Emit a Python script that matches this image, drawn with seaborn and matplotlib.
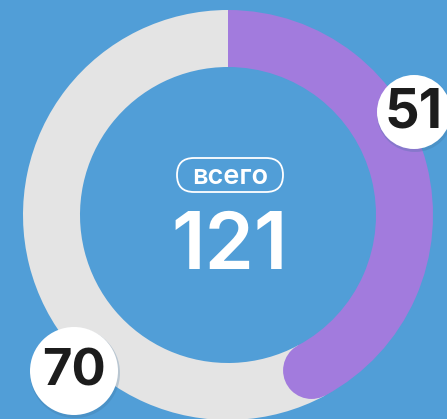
import matplotlib
matplotlib.use("Agg")
import matplotlib.pyplot as plt
import numpy as np
import seaborn as sns
from matplotlib.patches import Circle, FancyBboxPatch

# values
labels = ["51", "70"]
values = [51, 70]
total_label = "всего"

sns.set_style("white")
plt.rcParams["font.family"] = ["Inter", "DejaVu Sans"]

bg = "#519ed7"
ring_colors = ["#a27bdd", "#e4e4e4"]

W, H = 447, 419
fig = plt.figure(figsize=(W / 100, H / 100), dpi=100, facecolor=bg)
ax = fig.add_axes([0, 0, 1, 1])
ax.set_facecolor(bg)

cx, cy = 228, H - 215
R, width = 205, 57

ax.pie(values, colors=ring_colors, startangle=90, counterclock=False,
       radius=R, center=(cx, cy),
       wedgeprops=dict(width=width, linewidth=0, antialiased=True))

# rounded end of the first segment
end = np.deg2rad(90 - 360 * values[0] / sum(values))
rm = R - width / 2
ax.add_patch(Circle((cx + rm * np.cos(end), cy + rm * np.sin(end)), width / 2,
                    fc=ring_colors[0], ec="none", zorder=3))

# centre: outlined tag + total
ax.add_patch(FancyBboxPatch((230 - 53, H - 192), 106, 34,
                            boxstyle="round,pad=0,rounding_size=17",
                            fc="none", ec="white", lw=1.3, zorder=4))
ax.text(230, H - 177, total_label, color="white", fontsize=19.5,
        fontweight="semibold", ha="center", va="center", zorder=5)
ax.text(230, H - 248, str(sum(values)), color="white", fontsize=57,
        fontweight="semibold", ha="center", va="center", zorder=5)

# value badges
badges = [(414, H - 112, 37, 39), (74, H - 371, 44, 36.5)]
for lab, (bx, by, br, fs) in zip(labels, badges):
    ax.add_patch(Circle((bx + 1, by - 2), br + 1, fc="#3a6f9a", alpha=0.25,
                        ec="none", zorder=5))
    ax.add_patch(Circle((bx, by), br, fc="white", ec="none", zorder=6))
    ax.text(bx, by - 1, lab, color="#1c1c1c", fontsize=fs, fontweight="bold",
            ha="center", va="center", zorder=7)

ax.set_xlim(0, W)
ax.set_ylim(0, H)
ax.set_aspect("equal")
ax.axis("off")

fig.savefig("out.png", dpi=100, facecolor=bg)
